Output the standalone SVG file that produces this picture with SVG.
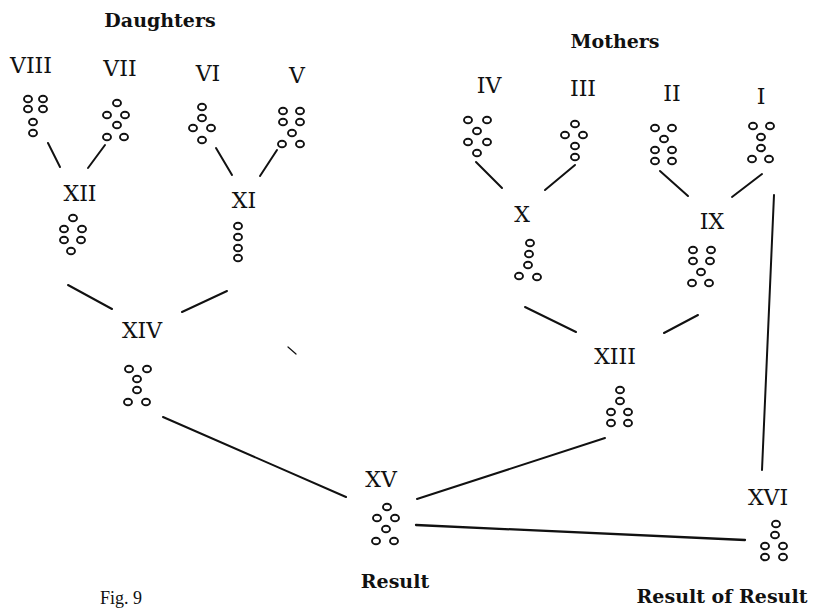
<svg xmlns="http://www.w3.org/2000/svg" xmlns:xlink="http://www.w3.org/1999/xlink" width="818" height="610" viewBox="0 0 818 610">
  <style>
    .num { font-family: "DejaVu Serif", "Liberation Serif", serif; font-size: 22px; fill: #111; text-anchor: middle; }
    .head { font-family: "DejaVu Serif", "Liberation Serif", serif; font-size: 19px; font-weight: bold; fill: #111; text-anchor: middle; }
    .cap { font-family: "Liberation Serif", "DejaVu Serif", serif; font-size: 18px; fill: #111; }
    .ln { stroke: #111; stroke-width: 2; stroke-linecap: round; fill: none; }
  </style>
  <defs>
    <!-- one geomantic point -->
    <ellipse id="o" cx="0" cy="0" rx="4" ry="3.3" fill="#fff" stroke="#111" stroke-width="1.9"/>
  </defs>
  <rect width="818" height="610" fill="#fff"/>

  <text class="head" x="160" y="27">Daughters</text>
  <text class="head" x="615" y="48">Mothers</text>

  <!-- connectors -->
  <g id="connectors" class="ln">
    <line x1="48" y1="143" x2="60" y2="167"/>
    <line x1="105" y1="145" x2="88" y2="168"/>
    <line x1="216" y1="148" x2="232" y2="175"/>
    <line x1="277" y1="150" x2="260" y2="176"/>
    <line x1="476" y1="162" x2="502" y2="188"/>
    <line x1="575" y1="165" x2="545" y2="190"/>
    <line x1="660" y1="171" x2="688" y2="196"/>
    <line x1="762" y1="174" x2="732" y2="197"/>
    <line x1="68" y1="285" x2="112" y2="309"/>
    <line x1="227" y1="291" x2="182" y2="312"/>
    <line x1="525" y1="307" x2="576" y2="332"/>
    <line x1="698" y1="315" x2="664" y2="333"/>
    <line x1="163" y1="417" x2="346" y2="497"/>
    <line x1="605" y1="438" x2="417" y2="499"/>
    <line x1="774" y1="195" x2="762" y2="470"/>
    <line x1="416" y1="525" x2="745" y2="540" stroke-width="2.3"/>
    <line x1="288" y1="347" x2="296" y2="354" stroke-width="1.2"/>
  </g>

  <!-- Daughters -->
  <g id="fig-VIII">
    <text class="num" x="31" y="73">VIII</text>
    <use xlink:href="#o" x="28" y="99"/><use xlink:href="#o" x="43" y="99"/>
    <use xlink:href="#o" x="28" y="109"/><use xlink:href="#o" x="43" y="109"/>
    <use xlink:href="#o" x="33" y="122"/>
    <use xlink:href="#o" x="33" y="133"/>
  </g>
  <g id="fig-VII">
    <text class="num" x="120" y="76">VII</text>
    <use xlink:href="#o" x="117" y="103"/>
    <use xlink:href="#o" x="107" y="115"/><use xlink:href="#o" x="125" y="115"/>
    <use xlink:href="#o" x="117" y="125"/>
    <use xlink:href="#o" x="107" y="137"/><use xlink:href="#o" x="124" y="137"/>
  </g>
  <g id="fig-VI">
    <text class="num" x="208" y="81">VI</text>
    <use xlink:href="#o" x="202" y="107"/>
    <use xlink:href="#o" x="202" y="118"/>
    <use xlink:href="#o" x="193" y="128"/><use xlink:href="#o" x="211" y="128"/>
    <use xlink:href="#o" x="202" y="140"/>
  </g>
  <g id="fig-V">
    <text class="num" x="297" y="83">V</text>
    <use xlink:href="#o" x="283" y="111"/><use xlink:href="#o" x="300" y="111"/>
    <use xlink:href="#o" x="283" y="122"/><use xlink:href="#o" x="300" y="122"/>
    <use xlink:href="#o" x="292" y="133"/>
    <use xlink:href="#o" x="282" y="144"/><use xlink:href="#o" x="300" y="144"/>
  </g>

  <!-- Mothers -->
  <g id="fig-IV">
    <text class="num" x="489" y="93">IV</text>
    <use xlink:href="#o" x="468" y="120"/><use xlink:href="#o" x="487" y="120"/>
    <use xlink:href="#o" x="477" y="131"/>
    <use xlink:href="#o" x="468" y="142"/><use xlink:href="#o" x="487" y="142"/>
    <use xlink:href="#o" x="477" y="153"/>
  </g>
  <g id="fig-III">
    <text class="num" x="583" y="96">III</text>
    <use xlink:href="#o" x="575" y="124"/>
    <use xlink:href="#o" x="565" y="135"/><use xlink:href="#o" x="583" y="135"/>
    <use xlink:href="#o" x="575" y="146"/>
    <use xlink:href="#o" x="575" y="157"/>
  </g>
  <g id="fig-II">
    <text class="num" x="672" y="101">II</text>
    <use xlink:href="#o" x="655" y="128"/><use xlink:href="#o" x="672" y="128"/>
    <use xlink:href="#o" x="664" y="139"/>
    <use xlink:href="#o" x="655" y="150"/><use xlink:href="#o" x="672" y="150"/>
    <use xlink:href="#o" x="655" y="161"/><use xlink:href="#o" x="672" y="161"/>
  </g>
  <g id="fig-I">
    <text class="num" x="761" y="104">I</text>
    <use xlink:href="#o" x="753" y="126"/><use xlink:href="#o" x="770" y="126"/>
    <use xlink:href="#o" x="761" y="137"/>
    <use xlink:href="#o" x="761" y="148"/>
    <use xlink:href="#o" x="752" y="159"/><use xlink:href="#o" x="769" y="159"/>
  </g>

  <!-- Nieces -->
  <g id="fig-XII">
    <text class="num" x="80" y="201">XII</text>
    <use xlink:href="#o" x="73" y="218"/>
    <use xlink:href="#o" x="64" y="229"/><use xlink:href="#o" x="82" y="229"/>
    <use xlink:href="#o" x="64" y="240"/><use xlink:href="#o" x="81" y="240"/>
    <use xlink:href="#o" x="71" y="251"/>
  </g>
  <g id="fig-XI">
    <text class="num" x="244" y="208">XI</text>
    <use xlink:href="#o" x="238" y="226"/>
    <use xlink:href="#o" x="238" y="237"/>
    <use xlink:href="#o" x="238" y="248"/>
    <use xlink:href="#o" x="238" y="258"/>
  </g>
  <g id="fig-X">
    <text class="num" x="522" y="222">X</text>
    <use xlink:href="#o" x="530" y="243"/>
    <use xlink:href="#o" x="529" y="254"/>
    <use xlink:href="#o" x="528" y="265"/>
    <use xlink:href="#o" x="519" y="276"/><use xlink:href="#o" x="537" y="277"/>
  </g>
  <g id="fig-IX">
    <text class="num" x="712" y="229">IX</text>
    <use xlink:href="#o" x="693" y="250"/><use xlink:href="#o" x="711" y="250"/>
    <use xlink:href="#o" x="693" y="261"/><use xlink:href="#o" x="710" y="261"/>
    <use xlink:href="#o" x="701" y="272"/>
    <use xlink:href="#o" x="692" y="283"/><use xlink:href="#o" x="709" y="283"/>
  </g>

  <!-- Witnesses -->
  <g id="fig-XIV">
    <text class="num" x="142" y="338">XIV</text>
    <use xlink:href="#o" x="129" y="369"/><use xlink:href="#o" x="147" y="369"/>
    <use xlink:href="#o" x="137" y="379"/>
    <use xlink:href="#o" x="137" y="390"/>
    <use xlink:href="#o" x="128" y="402"/><use xlink:href="#o" x="146" y="402"/>
  </g>
  <g id="fig-XIII">
    <text class="num" x="615" y="364">XIII</text>
    <use xlink:href="#o" x="620" y="390"/>
    <use xlink:href="#o" x="620" y="401"/>
    <use xlink:href="#o" x="611" y="412"/><use xlink:href="#o" x="628" y="412"/>
    <use xlink:href="#o" x="611" y="423"/><use xlink:href="#o" x="628" y="423"/>
  </g>

  <!-- Judge and Reconciler -->
  <g id="fig-XV">
    <text class="num" x="381" y="487">XV</text>
    <use xlink:href="#o" x="387" y="507"/>
    <use xlink:href="#o" x="377" y="518"/><use xlink:href="#o" x="395" y="518"/>
    <use xlink:href="#o" x="386" y="529"/>
    <use xlink:href="#o" x="376" y="541"/><use xlink:href="#o" x="394" y="541"/>
    <text class="head" x="395" y="588">Result</text>
  </g>
  <g id="fig-XVI">
    <text class="num" x="768" y="505">XVI</text>
    <use xlink:href="#o" x="776" y="524"/>
    <use xlink:href="#o" x="775" y="535"/>
    <use xlink:href="#o" x="765" y="546"/><use xlink:href="#o" x="783" y="546"/>
    <use xlink:href="#o" x="765" y="557"/><use xlink:href="#o" x="783" y="557"/>
    <text class="head" x="722" y="603">Result of Result</text>
  </g>

  <text class="cap" x="100" y="604">Fig. 9</text>
</svg>
